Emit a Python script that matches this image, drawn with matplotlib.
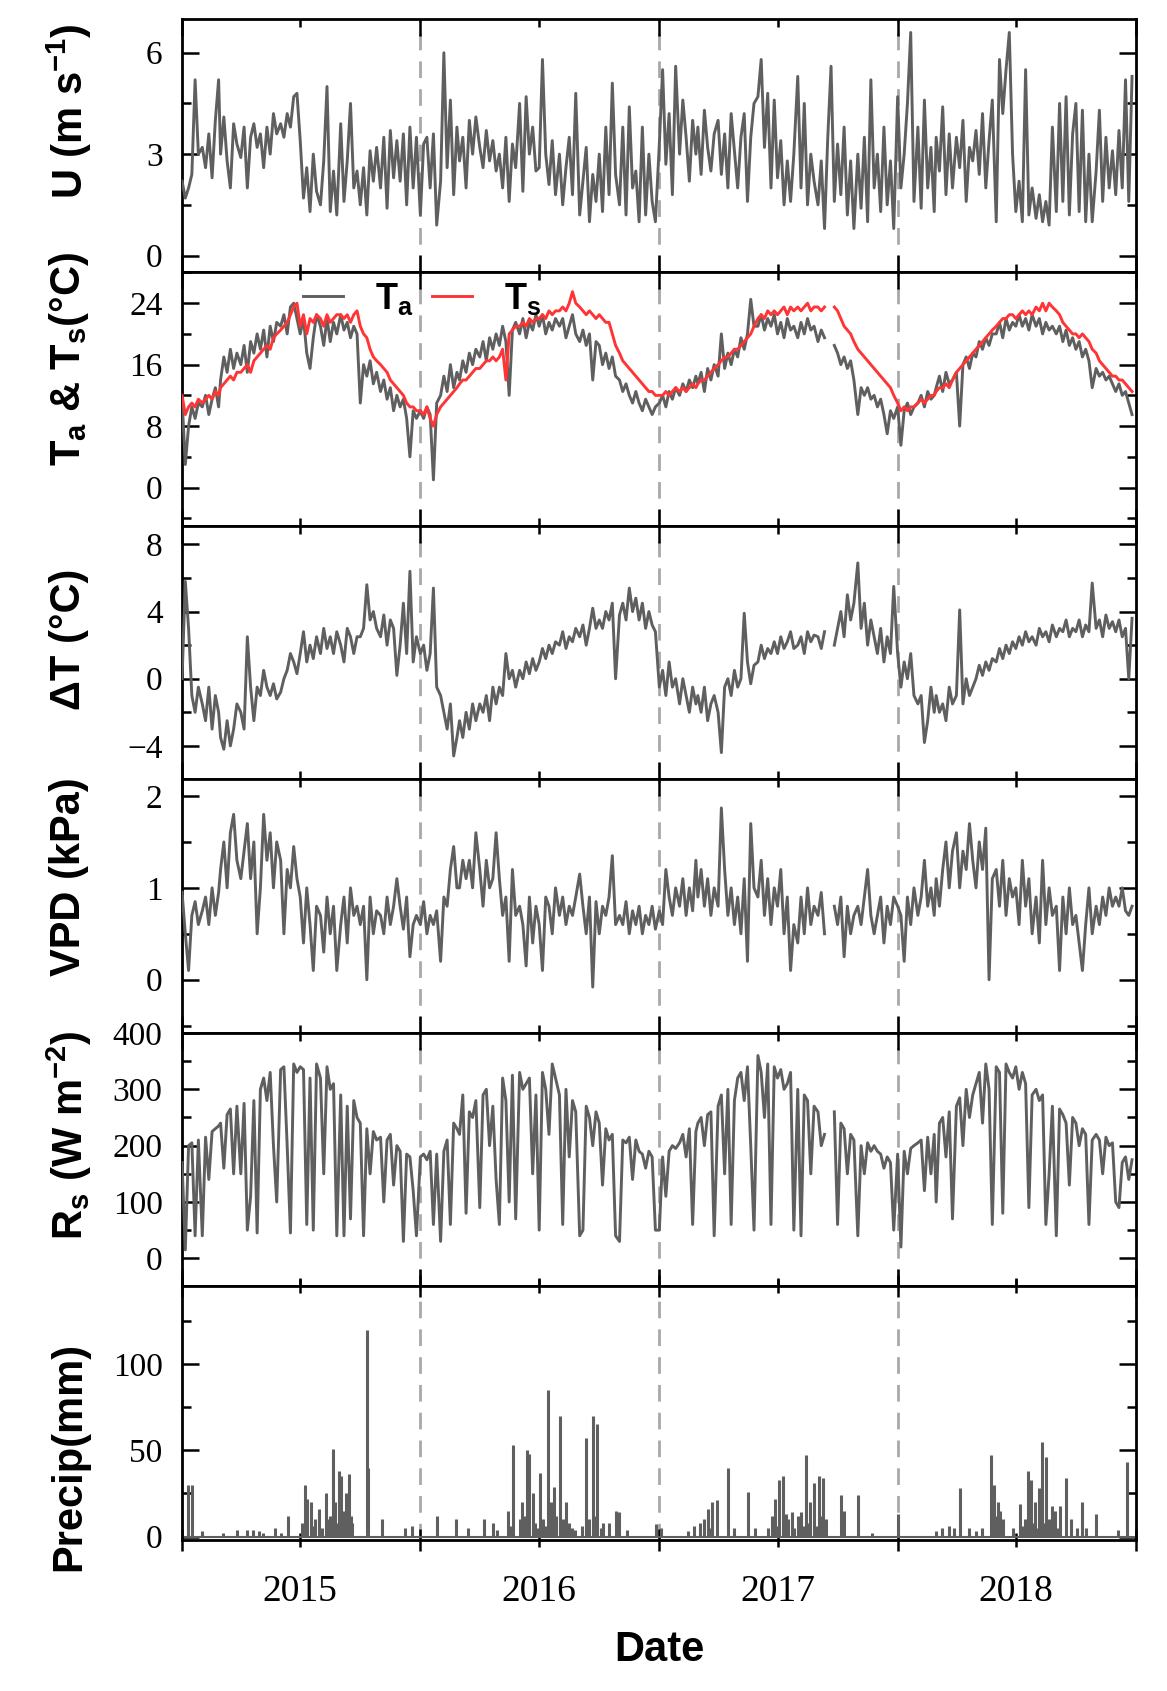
import numpy as np
import pandas as pd
import matplotlib
matplotlib.use("Agg")
import matplotlib.pyplot as plt
import matplotlib.dates as mdates
from matplotlib.ticker import MultipleLocator, NullFormatter

plt.rcParams['font.family'] = 'Liberation Serif'
plt.rcParams['mathtext.fontset'] = 'custom'
plt.rcParams['mathtext.rm'] = 'Liberation Sans:bold'
plt.rcParams['mathtext.it'] = 'Liberation Sans:bold'
plt.rcParams['mathtext.bf'] = 'Liberation Sans:bold'

#%% data (6 samples per month: day 1, 6, 11, 16, 21, 26)

years = [2015, 2016, 2017, 2018]
sample_days = [1, 6, 11, 16, 21, 26]
nan = np.nan

# wind speed U (m s-1)
u = [
    2.2, 1.7, 2.0, 2.4, 5.2, 3.0,  3.2, 2.6, 3.6, 2.3, 4.0, 5.2,  3.0, 4.1, 2.8, 2.0, 3.9, 3.3,
    2.9, 3.8, 2.0, 3.5, 3.9, 3.2,  3.6, 2.6, 3.8, 3.0, 4.2, 3.6,  3.9, 3.5, 4.2, 3.8, 4.7, 4.8,
    3.4, 1.7, 2.6, 1.3, 3.0, 1.9,  1.5, 2.8, 5.0, 1.3, 2.5, 1.2,  3.9, 1.6, 2.8, 4.5, 2.0, 2.5,
    1.5, 2.6, 1.2, 3.1, 2.2, 3.2,  2.0, 3.5, 1.4, 3.7, 2.3, 3.4,  2.2, 3.6, 1.5, 3.8, 2.0, 3.5,
    1.2, 3.3, 3.5, 2.0, 3.6, 0.9,  2.2, 6.0, 2.6, 4.6, 1.8, 3.8,  2.8, 3.5, 2.0, 4.0, 3.0, 4.1,
    3.2, 2.6, 3.7, 2.8, 3.4, 2.5,  3.0, 2.0, 3.5, 1.6, 3.3, 2.6,  4.5, 1.9, 4.7, 3.0, 3.8, 2.5,
    2.6, 5.8, 3.0, 2.1, 3.4, 1.8,  3.0, 1.5, 2.6, 3.5, 1.8, 4.8,  1.2, 2.2, 3.2, 1.0, 2.4, 1.6,
    3.0, 1.3, 3.8, 1.8, 5.1, 2.4,  1.5, 3.8, 1.2, 4.4, 2.0, 2.5,  1.0, 3.8, 1.2, 3.0, 1.6, 1.0,
    3.3, 5.5, 2.7, 4.2, 1.8, 5.6,  3.0, 4.6, 3.5, 2.2, 4.0, 3.0,  3.8, 2.4, 4.3, 3.2, 2.5, 3.6,
    4.0, 2.4, 3.6, 2.0, 4.2, 3.1,  2.0, 3.5, 4.2, 1.6, 3.5, 4.5,  4.7, 5.8, 3.2, 4.8, 2.0, 4.6,
    2.3, 3.4, 1.5, 2.8, 1.6, 3.0,  5.3, 2.0, 4.5, 1.5, 3.0, 2.2,  1.5, 2.8, 0.8, 3.5, 5.6, 1.6,
    3.3, 1.8, 3.8, 1.2, 2.8, 0.8,  3.0, 1.4, 3.5, 1.0, 5.2, 2.0,  3.0, 1.3, 3.8, 1.5, 2.8, 0.8,
    4.7, 2.0, 3.0, 4.5, 6.6, 1.6,  3.8, 1.4, 4.6, 2.0, 3.2, 1.3,  3.5, 2.5, 4.4, 1.8, 3.6, 2.0,
    3.5, 2.6, 4.0, 1.6, 3.2, 2.8,  3.7, 2.4, 4.2, 2.0, 3.4, 4.6,  1.0, 5.8, 4.2, 5.5, 6.6, 3.0,
    1.3, 2.2, 1.0, 5.5, 1.2, 2.0,  1.1, 1.8, 1.0, 1.6, 0.9, 3.8,  1.3, 4.5, 1.6, 4.7, 1.2, 3.6,
    4.5, 1.3, 4.3, 1.0, 3.0, 1.0,  2.5, 4.3, 1.6, 3.5, 2.0, 3.1,  1.8, 3.7, 2.0, 5.2, 1.6, 5.3,
]

# air temperature Ta (degC)
ta = [
    11.5, 3.0, 8.0, 10.5, 9.0, 11.0,  10.5, 12.0, 9.5, 11.5, 13.0, 10.5,  14.0, 17.0, 15.0, 18.0, 15.5, 17.5,
    16.0, 18.5, 15.0, 19.0, 17.5, 20.0,  18.0, 20.5, 17.0, 21.0, 19.0, 21.5,  21.0, 22.5, 20.0, 23.5, 24.0, 22.0,
    20.0, 22.0, 17.5, 15.5, 19.5, 22.5,  21.0, 18.5, 22.0, 19.0, 21.5, 20.0,  22.5, 20.5, 21.5, 19.5, 21.0, 20.0,
    11.0, 16.0, 14.5, 16.5, 13.5, 15.0,  12.5, 14.0, 11.5, 13.0, 10.0, 12.0,  10.5, 11.5, 9.0, 4.0, 10.0, 9.0,
    10.0, 9.0, 10.5, 9.5, 1.0, 11.0,  12.0, 14.5, 12.5, 16.0, 13.0, 15.0,  14.0, 16.5, 15.0, 17.5, 16.0, 18.0,
    17.0, 19.0, 16.5, 19.5, 18.0, 20.0,  18.5, 21.0, 19.0, 12.0, 20.5, 21.5,  20.0, 22.0, 19.5, 21.5, 20.5, 22.5,
    21.0, 22.5, 20.0, 21.5, 20.5, 22.0,  21.0, 22.0, 19.5, 21.0, 22.5, 20.0,  19.0, 20.5, 18.5, 20.0, 14.0, 19.0,
    18.5, 16.0, 17.5, 15.5, 17.0, 14.5,  14.0, 12.5, 13.5, 12.0, 11.0, 12.5,  11.0, 10.0, 11.5, 10.5, 9.5, 10.5,
    11.0, 12.0, 10.5, 12.5, 11.5, 13.0,  12.0, 13.5, 12.5, 14.0, 13.0, 14.5,  13.5, 15.0, 12.5, 15.5, 14.0, 16.0,
    14.5, 20.0, 15.5, 17.5, 16.0, 18.0,  17.0, 19.5, 18.0, 20.0, 24.5, 21.0,  21.0, 22.5, 20.5, 22.0, 21.0, 22.5,
    20.0, 21.5, 19.5, 22.0, 20.5, 21.0,  19.5, 21.5, 20.0, 22.0, 20.5, 21.0,  19.0, 20.5, 19.5, nan, nan, 18.5,
    17.5, 16.0, 17.0, 15.5, 16.5, 14.0,  9.5, 13.0, 12.0, 13.0, 11.5, 12.0,  10.5, 11.5, 9.5, 7.0, 10.0, 9.0,
    10.5, 5.5, 10.0, 11.0, 9.5, 10.5,  11.0, 12.0, 10.5, 12.5, 11.5, 12.0,  13.0, 14.5, 12.5, 15.0, 13.5, 14.0,
    15.0, 8.0, 16.0, 17.0, 15.5, 17.5,  17.0, 19.0, 18.0, 19.5, 18.5, 20.0,  20.0, 21.5, 19.5, 22.0, 20.5, 21.5,
    21.0, 22.5, 21.0, 22.0, 20.5, 22.5,  21.0, 22.0, 20.0, 21.5, 20.5, 21.0,  20.0, 21.0, 19.0, 20.5, 18.5, 19.5,
    18.0, 19.0, 17.0, 18.0, 16.5, 13.0,  15.5, 14.5, 15.0, 14.0, 14.5, 13.5,  12.5, 13.5, 12.0, 12.5, 11.0, 9.5,
]

# soil/surface temperature Ts (degC)
ts = [
    12.0, 9.5, 10.5, 11.0, 10.5, 11.5,  11.0, 11.5, 12.0, 11.5, 12.5, 12.0,  13.0, 13.5, 14.0, 14.5, 14.0, 15.0,
    15.0, 15.5, 16.0, 15.0, 16.5, 17.0,  17.5, 18.0, 18.5, 18.0, 19.5, 20.0,  20.5, 21.0, 21.5, 22.5, 23.5, 24.0,
    21.0, 22.5, 20.0, 22.0, 21.5, 22.5,  22.0, 21.0, 22.5, 21.5, 22.0, 22.5,  22.5, 22.0, 22.5, 21.5, 22.5, 23.0,
    21.0, 20.0, 19.5, 18.0, 17.0, 16.5,  16.0, 15.5, 15.0, 14.0, 13.5, 13.0,  12.5, 12.0, 11.0, 10.5, 10.5, 10.0,
    10.0, 9.5, 10.5, 9.0, 8.0, 9.5,  10.5, 11.0, 11.5, 12.0, 12.5, 13.0,  13.5, 14.0, 14.0, 14.5, 15.0, 15.5,
    15.5, 16.0, 16.5, 16.5, 17.0, 16.5,  17.0, 18.0, 14.0, 20.0, 20.5, 21.0,  21.0, 21.5, 21.0, 22.0, 21.5, 22.0,
    22.0, 22.5, 22.0, 23.0, 22.5, 23.0,  23.0, 23.5, 23.0, 24.0, 25.5, 24.0,  23.5, 23.0, 22.5, 23.0, 22.5, 22.0,
    22.5, 22.0, 21.5, 21.5, 20.0, 18.5,  17.5, 16.5, 16.0, 15.5, 15.0, 14.5,  14.0, 13.5, 13.0, 12.5, 12.5, 12.0,
    12.0, 12.0, 12.5, 12.0, 12.5, 13.0,  12.5, 13.0, 12.5, 13.0, 13.5, 13.0,  13.5, 14.0, 14.0, 14.5, 15.0, 15.5,
    16.0, 16.5, 17.0, 17.0, 17.5, 18.0,  18.0, 18.5, 19.0, 19.5, 20.0, 21.0,  22.0, 22.5, 22.0, 23.0, 22.5, 23.0,
    22.5, 23.0, 23.5, 22.5, 23.5, 23.0,  23.5, 23.0, 23.5, 24.0, 23.0, 23.5,  23.5, 23.0, 23.5, nan, nan, 23.5,
    23.0, 22.0, 21.0, 20.5, 20.0, 19.0,  18.0, 17.5, 17.0, 16.5, 16.0, 15.5,  15.0, 14.5, 14.0, 13.5, 13.0, 12.0,
    11.0, 10.0, 10.5, 10.0, 10.5, 10.5,  11.0, 11.5, 11.0, 11.5, 12.0, 12.0,  12.5, 13.0, 13.0, 13.5, 13.0, 14.0,
    15.0, 15.5, 16.0, 16.5, 17.0, 17.5,  18.0, 18.5, 19.0, 19.5, 20.0, 20.5,  21.0, 21.5, 22.0, 22.0, 22.5, 22.5,
    22.0, 22.5, 23.0, 22.5, 23.0, 22.5,  23.5, 23.0, 24.0, 23.0, 24.0, 23.5,  23.0, 22.5, 21.5, 21.0, 20.5, 20.0,
    20.0, 19.5, 20.0, 19.5, 19.0, 18.0,  17.5, 16.5, 16.0, 15.5, 15.0, 14.5,  14.5, 14.0, 14.0, 13.5, 13.0, 12.5,
]

# temperature difference dT (degC)
dt = [
    0.0, 5.8, 3.0, -1.0, -2.0, -0.5,  -1.5, -2.5, -0.5, -3.0, -1.0, -2.0,  -3.5, -4.2, -2.5, -4.0, -3.0, -1.5,
    -2.0, -3.0, 2.5, -0.5, -2.5, -0.5,  -1.0, 0.5, -0.5, -1.0, -0.3, -1.2,  -0.8, 0.0, 0.5, 1.5, 1.0, 0.3,
    1.5, 2.8, 1.0, 2.0, 1.2, 2.5,  1.5, 3.0, 1.8, 2.5, 1.5, 2.8,  2.0, 1.0, 3.0, 2.5, 1.5, 2.5,
    2.5, 3.0, 5.6, 3.5, 4.0, 3.0,  2.5, 3.8, 2.0, 3.5, 3.0, 0.2,  2.0, 4.5, 1.5, 6.4, 1.0, 2.5,
    1.5, 2.0, 0.5, 1.5, 5.4, -0.5,  -1.0, -2.0, -3.0, -1.5, -4.6, -3.5,  -2.5, -3.5, -2.0, -3.0, -1.5, -2.5,
    -1.5, -2.0, -1.0, -2.5, -0.5, -1.5,  -0.5, -1.0, 1.5, 0.0, 0.5, -0.5,  0.5, 0.0, 1.0, 0.3, 1.2, 0.5,
    1.0, 1.8, 1.2, 2.0, 1.5, 2.2,  2.0, 2.8, 1.8, 2.5, 2.2, 3.0,  2.5, 3.2, 2.0, 3.0, 4.2, 3.0,
    3.5, 3.0, 4.0, 3.5, 4.5, 0.0,  3.8, 4.5, 3.5, 5.4, 4.0, 4.8,  3.5, 4.5, 3.0, 4.0, 3.2, 2.8,
    -0.5, 0.5, -1.0, 1.0, -0.5, 0.0,  -1.5, 0.0, -1.0, -2.0, -0.5, -1.5,  -1.0, -2.0, -0.5, -2.5, -1.5, -1.0,
    -2.0, -4.4, -0.5, 0.0, -1.0, 0.5,  -0.5, 0.0, 3.9, 1.0, -0.3, 0.8,  1.0, 2.0, 1.2, 1.8, 1.5, 2.2,
    1.5, 2.5, 1.8, 2.2, 2.8, 1.8,  2.0, 2.5, 1.5, 2.8, 2.2, 2.6,  2.5, 1.8, 2.8, nan, nan, 2.0,
    3.0, 4.0, 2.5, 5.0, 3.5, 4.5,  6.9, 3.0, 4.5, 2.0, 3.5, 2.5,  1.5, 3.0, 1.0, 2.5, 1.5, 5.5,
    1.5, -0.5, 1.0, 0.0, 1.5, -1.0,  -1.5, -1.0, -3.8, -2.5, -0.5, -2.0,  -1.0, -2.0, -1.5, -2.5, -0.5, -1.5,
    -1.0, 4.1, -1.5, 0.0, -1.0, -0.5,  0.0, 0.8, 0.2, 1.0, 0.5, 1.2,  1.0, 1.8, 1.2, 2.0, 1.5, 2.2,
    1.8, 2.5, 2.0, 2.8, 2.2, 2.5,  2.0, 3.0, 2.5, 2.8, 2.2, 3.2,  2.5, 3.0, 2.8, 3.5, 2.5, 3.0,
    2.8, 3.5, 2.5, 3.2, 2.8, 5.7,  3.0, 3.5, 2.5, 3.8, 3.0, 3.4,  2.8, 3.5, 2.5, 3.0, 0.0, 3.6,
]

# vapour pressure deficit (kPa)
vpd = [
    0.95, 0.5, 0.1, 0.7, 0.85, 0.6,  0.75, 0.9, 0.6, 1.0, 0.7, 0.95,  1.2, 1.5, 1.0, 1.6, 1.8, 1.3,
    1.1, 1.4, 1.7, 1.1, 1.5, 0.5,  1.0, 1.8, 1.3, 1.6, 1.0, 1.5,  1.3, 0.5, 1.2, 1.0, 1.45, 1.1,
    0.9, 0.4, 1.0, 0.6, 0.1, 0.8,  0.7, 0.3, 0.9, 0.5, 0.8, 0.1,  0.6, 0.9, 0.4, 1.0, 0.7, 0.8,
    0.6, 0.8, 0.0, 0.9, 0.5, 0.75,  0.7, 0.5, 0.9, 0.6, 0.8, 1.1,  0.8, 0.55, 0.9, 0.25, 0.6, 0.7,
    0.6, 0.85, 0.5, 0.7, 0.6, 0.75,  0.2, 0.9, 0.8, 1.2, 1.45, 1.0,  1.0, 1.3, 1.1, 1.3, 1.0, 1.6,
    1.2, 0.8, 1.3, 1.0, 1.1, 1.6,  1.1, 0.7, 0.9, 0.2, 1.2, 0.7,  0.8, 0.6, 0.15, 0.9, 0.4, 0.8,
    0.6, 0.1, 0.9, 0.8, 0.5, 1.0,  0.7, 0.9, 0.6, 0.8, 0.7, 0.9,  1.15, 0.8, 0.5, 0.9, -0.08, 0.85,
    0.5, 0.8, 0.7, 0.9, 1.35, 0.6,  0.7, 0.6, 0.85, 0.5, 0.75, 0.6,  0.8, 0.5, 0.7, 0.6, 0.8, 0.55,
    0.75, 0.6, 1.2, 0.9, 0.7, 1.0,  0.8, 1.1, 0.7, 1.0, 0.75, 1.3,  0.9, 1.2, 0.8, 1.1, 0.7, 1.0,
    0.8, 1.87, 1.2, 0.7, 1.0, 0.6,  0.9, 0.5, 1.1, 0.2, 1.7, 1.0,  0.9, 1.3, 0.7, 1.1, 0.6, 1.0,
    0.8, 1.2, 0.5, 0.9, 0.1, 0.6,  0.4, 0.9, 0.5, 1.0, 0.6, 0.8,  0.7, 0.95, 0.5, nan, nan, 0.8,
    0.6, 0.9, 0.25, 0.8, 0.5, 0.7,  0.8, 0.6, 0.9, 1.2, 0.7, 0.5,  0.7, 0.9, 0.4, 0.8, 0.6, 0.9,
    0.8, 0.7, 0.2, 0.9, 0.6, 1.0,  0.7, 0.9, 1.3, 0.8, 1.0, 0.7,  1.1, 0.8, 1.2, 1.5, 1.0, 1.4,
    1.6, 1.0, 1.4, 1.2, 1.7, 1.3,  1.0, 1.5, 1.2, 1.65, 0.0, 1.1,  1.2, 0.8, 1.3, 0.7, 1.1, 0.9,
    1.0, 0.6, 1.3, 0.8, 1.1, 0.5,  0.9, 0.4, 1.3, 0.6, 1.0, 0.7,  0.8, 0.1, 0.9, 0.5, 1.0, 0.6,
    0.7, 0.4, 0.1, 0.6, 1.0, 0.5,  0.8, 0.6, 0.9, 0.7, 1.0, 0.8,  0.9, 0.8, 1.0, 0.75, 0.7, 0.8,
]

# solar radiation Rs (W m-2)
rs = [
    170, 15, 200, 205, 40, 210,  40, 215, 140, 225, 230, 235,  240, 160, 255, 265, 150, 270,
    150, 275, 50, 110, 280, 45,  300, 320, 280, 330, 200, 100,  335, 340, 200, 45, 345, 330,
    340, 335, 60, 320, 50, 345,  320, 150, 340, 300, 310, 40,  290, 40, 270, 70, 280, 250,
    240, 40, 230, 150, 225, 210,  215, 100, 210, 220, 130, 200,  190, 30, 185, 180, 120, 40,
    180, 185, 175, 190, 60, 185,  30, 190, 210, 60, 240, 230,  220, 290, 80, 260, 250, 280,
    90, 290, 300, 200, 270, 140,  60, 320, 280, 100, 325, 70,  330, 300, 310, 320, 150, 290,
    50, 330, 300, 220, 345, 320,  290, 60, 300, 180, 280, 260,  40, 50, 270, 250, 200, 260,
    240, 130, 230, 210, 220, 40,  30, 210, 205, 215, 140, 210,  190, 185, 160, 190, 180, 50,
    50, 180, 110, 190, 200, 195,  205, 220, 180, 230, 60, 225,  240, 250, 200, 255, 260, 40,
    270, 290, 150, 300, 60, 280,  320, 330, 280, 340, 200, 50,  360, 330, 250, 345, 60, 340,
    320, 335, 300, 310, 330, 50,  300, 40, 290, 280, 150, 270,  260, 200, 220, nan, nan, 260,
    60, 240, 230, 150, 220, 210,  40, 200, 150, 205, 190, 200,  190, 185, 160, 180, 170, 50,
    185, 20, 190, 150, 195, 200,  205, 210, 120, 215, 150, 220,  100, 240, 250, 180, 260, 70,
    270, 285, 200, 300, 250, 290,  310, 330, 240, 345, 300, 60,  340, 330, 80, 345, 330, 320,
    340, 300, 330, 310, 90, 290,  300, 280, 290, 60, 150, 270,  40, 265, 255, 240, 130, 250,
    240, 200, 230, 220, 60, 210,  220, 210, 150, 215, 200, 205,  100, 90, 170, 180, 140, 175,
]

# daily precipitation events (mm)
precip_dates = [
    '2015-01-10', '2015-01-17', '2015-02-01', '2015-03-05', '2015-03-26', '2015-04-10', '2015-04-19',
    '2015-04-29', '2015-05-05', '2015-05-24', '2015-06-01', '2015-06-13', '2015-07-03', '2015-07-08',
    '2015-07-12', '2015-07-17', '2015-07-20', '2015-07-24', '2015-07-29', '2015-08-03', '2015-08-10',
    '2015-08-12', '2015-08-16', '2015-08-20', '2015-08-24', '2015-08-26', '2015-08-29', '2015-09-01',
    '2015-09-03', '2015-09-05', '2015-09-09', '2015-09-11', '2015-09-13', '2015-09-16', '2015-09-18',
    '2015-10-11', '2015-10-13', '2015-11-04', '2015-12-08', '2015-12-19',
    '2016-01-27', '2016-02-24', '2016-03-14', '2016-04-07', '2016-04-21', '2016-04-28', '2016-05-14',
    '2016-05-18', '2016-05-22', '2016-06-02', '2016-06-05', '2016-06-09', '2016-06-13', '2016-06-16',
    '2016-06-21', '2016-06-25', '2016-06-28', '2016-07-02', '2016-07-07', '2016-07-10', '2016-07-14',
    '2016-07-19', '2016-07-23', '2016-07-27', '2016-08-02', '2016-08-06', '2016-08-11', '2016-08-15',
    '2016-08-21', '2016-08-25', '2016-09-05', '2016-09-10', '2016-09-16', '2016-09-21', '2016-09-24',
    '2016-09-28', '2016-10-03', '2016-10-07', '2016-10-16', '2016-10-27', '2016-10-31', '2016-11-13',
    '2016-12-27',
    '2017-01-03', '2017-02-14', '2017-02-23', '2017-03-05', '2017-03-10', '2017-03-16', '2017-03-20',
    '2017-03-23', '2017-03-31', '2017-04-16', '2017-04-25', '2017-05-17', '2017-05-28', '2017-06-16',
    '2017-06-23', '2017-06-27', '2017-07-01', '2017-07-04', '2017-07-09', '2017-07-14', '2017-07-17',
    '2017-07-23', '2017-07-27', '2017-08-01', '2017-08-06', '2017-08-09', '2017-08-13', '2017-08-16',
    '2017-08-20', '2017-08-26', '2017-08-30', '2017-09-03', '2017-09-05', '2017-09-08', '2017-09-13',
    '2017-10-06', '2017-10-11', '2017-11-01', '2017-11-22',
    '2018-01-01', '2018-03-01', '2018-03-10', '2018-03-20', '2018-03-29', '2018-04-06', '2018-04-21',
    '2018-05-01', '2018-05-10', '2018-05-24', '2018-05-26', '2018-05-29', '2018-06-01', '2018-06-03',
    '2018-06-07', '2018-06-12', '2018-06-26', '2018-07-07', '2018-07-11', '2018-07-15', '2018-07-19',
    '2018-07-24', '2018-07-28', '2018-07-31', '2018-08-02', '2018-08-05', '2018-08-10', '2018-08-13',
    '2018-08-16', '2018-08-21', '2018-08-26', '2018-08-30', '2018-09-02', '2018-09-07', '2018-09-16',
    '2018-09-23', '2018-10-02', '2018-10-11', '2018-10-16', '2018-11-01', '2018-12-05', '2018-12-19',
]
precip_mm = [
    30, 30, 3, 2, 4, 4, 4,
    3, 2, 5, 2, 12, 8, 30,
    22, 20, 6, 10, 16, 5, 25,
    10, 12, 51, 20, 8, 38, 35,
    10, 15, 25, 5, 36, 12, 8,
    120, 40, 10, 5, 6,
    12, 10, 5, 10, 8, 4, 15,
    6, 53, 10, 20, 12, 50, 48,
    25, 8, 5, 37, 10, 6, 85,
    20, 29, 12, 70, 10, 20, 8,
    5, 4, 6, 57, 10, 70, 12,
    65, 5, 8, 8, 15, 14, 4,
    7,
    5, 3, 6, 8, 10, 16, 5,
    20, 21, 40, 5, 26, 5, 5,
    12, 22, 6, 33, 35, 13, 10,
    14, 5, 12, 14, 6, 47, 8,
    20, 31, 6, 35, 12, 34, 10,
    24, 15, 24, 2,
    13, 3, 5, 6, 5, 28, 5,
    3, 5, 47, 8, 30, 12, 20,
    15, 10, 5, 19, 6, 10, 38,
    33, 8, 20, 5, 28, 55, 8,
    46, 10, 18, 15, 5, 18, 34,
    10, 5, 20, 5, 13, 4, 43,
]

#%% plot

dates = pd.to_datetime([f"{y}-{m:02d}-{d:02d}" for y in years
                        for m in range(1, 13) for d in sample_days])
p_dates = pd.to_datetime(precip_dates)

line_col = '#5f5f5f'
red_col = '#ff3535'
dash_col = '#a8a8a8'
lab_font = dict(family='Liberation Sans', weight='bold', size=30)

fig, axes = plt.subplots(6, 1, sharex=True, figsize=(11.67, 16.91), dpi=100,
                         gridspec_kw=dict(hspace=0))
fig.subplots_adjust(left=0.156, right=0.9734, top=0.9888, bottom=0.0893)

ax_u, ax_t, ax_dt, ax_vpd, ax_rs, ax_p = axes

ax_u.plot(dates, np.array(u, float), color=line_col, lw=2.1, zorder=3)
ax_t.plot(dates, np.array(ta, float), color=line_col, lw=2.1, zorder=3, label='T$_a$')
ax_t.plot(dates, np.array(ts, float), color=red_col, lw=2.1, zorder=4, label='T$_s$')
ax_dt.plot(dates, np.array(dt, float), color=line_col, lw=2.1, zorder=3)
ax_vpd.plot(dates, np.array(vpd, float), color=line_col, lw=2.1, zorder=3)
ax_rs.plot(dates, np.array(rs, float), color=line_col, lw=2.1, zorder=3)
ax_p.vlines(p_dates, 0, precip_mm, color=line_col, lw=2.2, zorder=3)
ax_p.axhline(0, color=line_col, lw=1.5, zorder=2)

# axis limits and y ticks
ylims = [(-0.5, 7), (-5, 28), (-6, 9.1), (-0.58, 2.18), (-50, 400), (-2, 145)]
majors = [3, 8, 4, 1, 100, 50]
minors = [1.5, 4, 2, 0.5, 50, 25]
labels = ['U (m s$^{-1}$)', 'T$_a$ & T$_s$(°C)', 'ΔT (°C)', 'VPD (kPa)',
          'R$_s$ (W m$^{-2}$)', 'Precip(mm)']
label_y = [0.636, 0.66, 0.553, 0.617, 0.596, 0.328]

for ax, yl, mj, mn, lab, ly in zip(axes, ylims, majors, minors, labels, label_y):
    ax.set_ylim(*yl)
    ax.yaxis.set_major_locator(MultipleLocator(mj))
    ax.yaxis.set_minor_locator(MultipleLocator(mn))
    ax.set_xlim(pd.Timestamp('2015-01-01'), pd.Timestamp('2019-01-01'))
    ax.xaxis.set_major_locator(mdates.YearLocator())
    ax.xaxis.set_minor_locator(mdates.MonthLocator(bymonth=7))
    ax.xaxis.set_major_formatter(NullFormatter())
    ax.xaxis.set_minor_formatter(NullFormatter())
    ax.tick_params(axis='y', which='major', direction='in', length=12, width=1.8,
                   left=True, right=True, labelsize=24, pad=14)
    ax.tick_params(axis='y', which='minor', direction='in', length=6.5, width=1.8,
                   left=True, right=True)
    ax.tick_params(axis='x', which='major', direction='in', length=12, width=1.8,
                   top=True, bottom=True)
    ax.tick_params(axis='x', which='minor', direction='in', length=5.5, width=1.8,
                   top=True, bottom=True)
    for sp in ax.spines.values():
        sp.set_linewidth(2.0)
    for yr in [2016, 2017, 2018]:
        ax.axvline(pd.Timestamp(f'{yr}-01-01'), color=dash_col, lw=2.0,
                   linestyle=(0, (6, 4)), zorder=1)
    ax.text(-0.118, ly, lab, transform=ax.transAxes, rotation=90,
            ha='center', va='center', fontdict=lab_font)

ax_p.xaxis.set_minor_formatter(mdates.DateFormatter('%Y'))
ax_p.tick_params(axis='x', which='major', direction='inout', length=16)
ax_p.tick_params(axis='x', which='minor', direction='inout', length=10,
                 labelsize=27, pad=20)

fig.text(0.5647, 1 - 1650 / 1691, 'Date', ha='center', va='center',
         family='Liberation Sans', weight='bold', size=30)

ax_t.legend(loc='center left', bbox_to_anchor=(0.127, 0.897), frameon=False, ncol=2,
            prop=dict(family='Liberation Sans', weight='bold', size=26),
            handlelength=1.1, handletextpad=0.9, columnspacing=0.5,
            borderpad=0, borderaxespad=0)

fig.savefig('out.png', dpi=100)
